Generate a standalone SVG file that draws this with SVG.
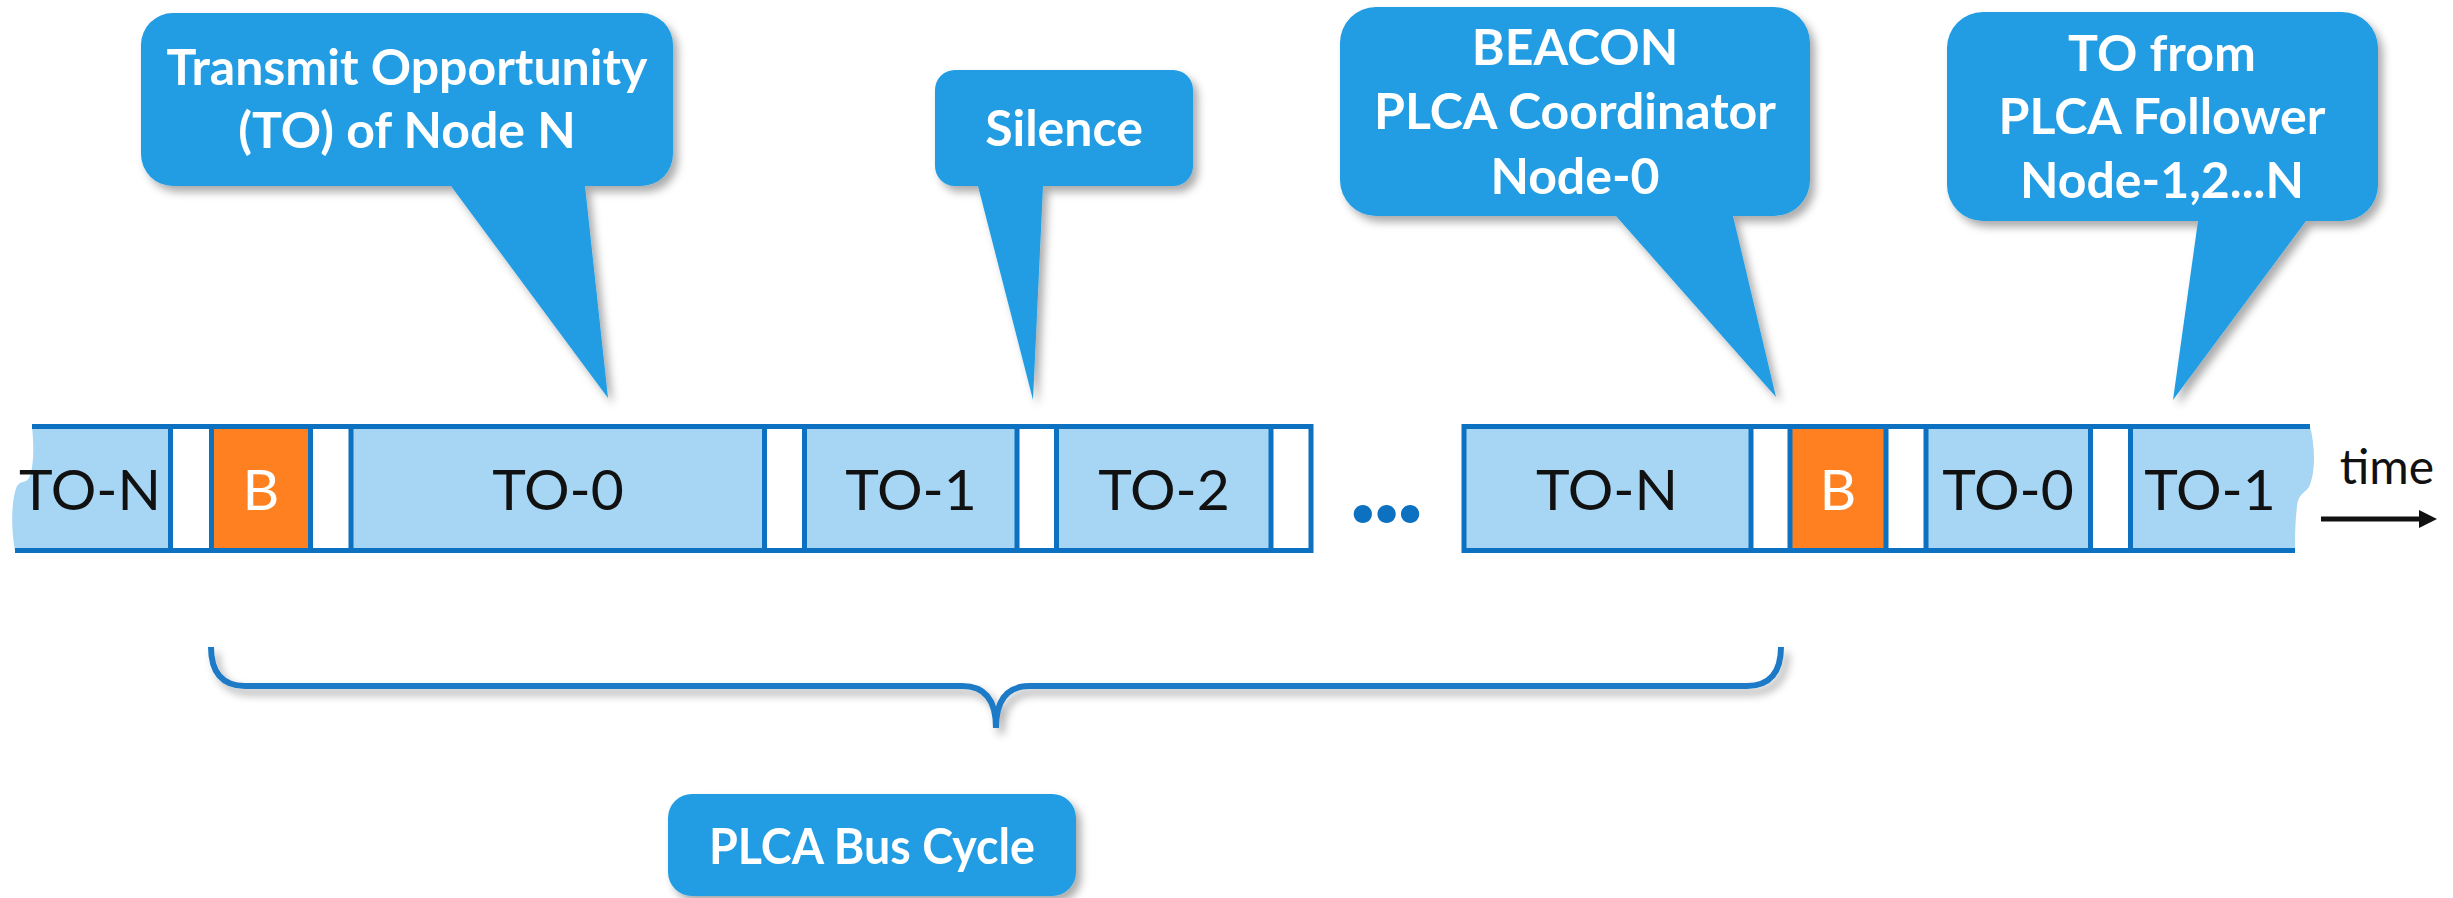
<svg xmlns="http://www.w3.org/2000/svg" width="2453" height="898" viewBox="0 0 2453 898">
  <defs>
    <style>
      .call { fill: #209de3; filter: url(#shadow); }
      .callText { font-family: Lato, "Liberation Sans", sans-serif; font-weight: 700; font-size: 50px; fill: #ffffff; text-anchor: middle; }
      .to { fill: #a6d6f4; }
      .gap { fill: #ffffff; }
      .beacon { fill: #fe8020; }
      .edge { stroke: #0c71c1; stroke-width: 5; fill: none; }
      .cellText { font-family: Lato, "Liberation Sans", sans-serif; font-size: 57px; fill: #111111; text-anchor: middle; }
      .beaconText { font-family: Lato, "Liberation Sans", sans-serif; font-size: 57px; fill: #ffffff; text-anchor: middle; }
      .brace { stroke: #1e7ac6; stroke-width: 6; fill: none; filter: url(#shadow); }
    </style>
    <filter id="shadow" x="-10%" y="-10%" width="130%" height="140%">
      <feDropShadow dx="5" dy="6" stdDeviation="4" flood-color="#000000" flood-opacity="0.33"/>
    </filter>
    <marker id="arrowHead" markerUnits="userSpaceOnUse" markerWidth="18" markerHeight="18" refX="1" refY="9" orient="auto">
      <path d="M0,0 L18,9 L0,18 Z" fill="#111111"/>
    </marker>
  </defs>

  <rect width="2453" height="898" fill="#ffffff"/>

  <!-- callouts -->
  <g id="callout-to-node-n">
    <path class="call" d="M173,13 H641 A32,32 0 0 1 673,45 V154 A32,32 0 0 1 641,186 H585 L608,398 L451,186 H173 A32,32 0 0 1 141,154 V45 A32,32 0 0 1 173,13 Z"/>
    <text class="callText" x="407" y="85">Transmit Opportunity</text>
    <text class="callText" x="407" y="148">(TO) of Node N</text>
  </g>

  <g id="callout-silence">
    <path class="call" d="M955,70 H1173 A20,20 0 0 1 1193,90 V166 A20,20 0 0 1 1173,186 H1043 L1033,400 L978,186 H955 A20,20 0 0 1 935,166 V90 A20,20 0 0 1 955,70 Z"/>
    <text class="callText" x="1064" y="146">Silence</text>
  </g>

  <g id="callout-beacon">
    <path class="call" d="M1376,7 H1774 A36,36 0 0 1 1810,43 V180 A36,36 0 0 1 1774,216 H1733 L1776,397 L1616,216 H1376 A36,36 0 0 1 1340,180 V43 A36,36 0 0 1 1376,7 Z"/>
    <text class="callText" x="1575" y="65">BEACON</text>
    <text class="callText" x="1575" y="129">PLCA Coordinator</text>
    <text class="callText" x="1575" y="194">Node-0</text>
  </g>

  <g id="callout-follower">
    <path class="call" d="M1983,12 H2342 A36,36 0 0 1 2378,48 V185 A36,36 0 0 1 2342,221 H2306 L2173,400 L2198,221 H1983 A36,36 0 0 1 1947,185 V48 A36,36 0 0 1 1983,12 Z"/>
    <text class="callText" x="2162" y="71">TO from</text>
    <text class="callText" x="2162" y="134">PLCA Follower</text>
    <text class="callText" x="2162" y="198">Node-1,2...N</text>
  </g>

  <!-- first run of the bus timeline -->
  <g id="cycle-start">
    <g id="s1-to-n">
      <path class="to" d="M32,426.5 H170.5 V550.5 H15 C11,530 11,500 17,486 C20,481 26,483 29,478 C34,468 34,445 32,426.5 Z"/>
      <text class="cellText" x="90" y="510">TO-N</text>
    </g>
    <g id="s1-gap-1"><rect class="gap" x="170.5" y="426.5" width="41" height="124"/></g>
    <g id="s1-beacon">
      <rect class="beacon" x="211.5" y="426.5" width="99" height="124"/>
      <text class="beaconText" x="261" y="510">B</text>
    </g>
    <g id="s1-gap-2"><rect class="gap" x="310.5" y="426.5" width="40.5" height="124"/></g>
    <g id="s1-to-0">
      <rect class="to" x="351" y="426.5" width="413.5" height="124"/>
      <text class="cellText" x="558" y="510">TO-0</text>
    </g>
    <g id="s1-gap-3"><rect class="gap" x="764.5" y="426.5" width="40" height="124"/></g>
    <g id="s1-to-1">
      <rect class="to" x="804.5" y="426.5" width="212.5" height="124"/>
      <text class="cellText" x="911" y="510">TO-1</text>
    </g>
    <g id="s1-gap-4"><rect class="gap" x="1017" y="426.5" width="39.5" height="124"/></g>
    <g id="s1-to-2">
      <rect class="to" x="1056.5" y="426.5" width="214.5" height="124"/>
      <text class="cellText" x="1164" y="510">TO-2</text>
    </g>
    <g id="s1-gap-5"><rect class="gap" x="1271" y="426.5" width="40" height="124"/></g>
    <path class="edge" d="M32,426.5 H1313.5 M15,550.5 H1313.5 M1311,426.5 V550.5 M170.5,426.5 V550.5 M211.5,426.5 V550.5 M310.5,426.5 V550.5 M351,426.5 V550.5 M764.5,426.5 V550.5 M804.5,426.5 V550.5 M1017,426.5 V550.5 M1056.5,426.5 V550.5 M1271,426.5 V550.5"/>
  </g>

  <text id="ellipsis" x="1385" y="522" font-family="Lato, 'Liberation Sans', sans-serif" font-weight="900" font-size="112" letter-spacing="-3" fill="#0c71c1" text-anchor="middle">...</text>

  <!-- second run of the bus timeline -->
  <g id="cycle-next">
    <g id="s2-to-n">
      <rect class="to" x="1464" y="426.5" width="287" height="124"/>
      <text class="cellText" x="1607" y="510">TO-N</text>
    </g>
    <g id="s2-gap-1"><rect class="gap" x="1751" y="426.5" width="39" height="124"/></g>
    <g id="s2-beacon">
      <rect class="beacon" x="1790" y="426.5" width="96" height="124"/>
      <text class="beaconText" x="1838" y="510">B</text>
    </g>
    <g id="s2-gap-2"><rect class="gap" x="1886" y="426.5" width="40" height="124"/></g>
    <g id="s2-to-0">
      <rect class="to" x="1926" y="426.5" width="164.5" height="124"/>
      <text class="cellText" x="2008" y="510">TO-0</text>
    </g>
    <g id="s2-gap-3"><rect class="gap" x="2090.5" y="426.5" width="40" height="124"/></g>
    <g id="s2-to-1">
      <path class="to" d="M2130.5,426.5 H2310 C2315,445 2316,472 2309,487 C2304,494 2298,494 2297,507 C2295,522 2295,540 2295,550.5 H2130.5 Z"/>
      <text class="cellText" x="2210" y="510">TO-1</text>
    </g>
    <path class="edge" d="M1461.5,426.5 H2310 M1461.5,550.5 H2295 M1464,426.5 V550.5 M1751,426.5 V550.5 M1790,426.5 V550.5 M1886,426.5 V550.5 M1926,426.5 V550.5 M2090.5,426.5 V550.5 M2130.5,426.5 V550.5"/>
  </g>

  <!-- time axis and cycle brace -->
  <g id="connectors">
    <line x1="2321" y1="519" x2="2420" y2="519" stroke="#111111" stroke-width="5" marker-end="url(#arrowHead)"/>
    <path id="cycle-brace" class="brace" d="M211,647 C211,672 222,686 245,686 H962 C985,686 996,700 996,728 C996,700 1007,686 1030,686 H1747 C1770,686 1781,672 1781,647"/>
  </g>
  <text id="time-label" x="2387" y="484" font-family="Lato, 'Liberation Sans', sans-serif" font-size="48" fill="#111111" text-anchor="middle">time</text>

  <g id="bus-cycle">
    <rect class="call" x="668" y="794" width="408" height="102" rx="24" ry="24"/>
    <text class="callText" x="872" y="864" textLength="326" lengthAdjust="spacingAndGlyphs">PLCA Bus Cycle</text>
  </g>
</svg>
